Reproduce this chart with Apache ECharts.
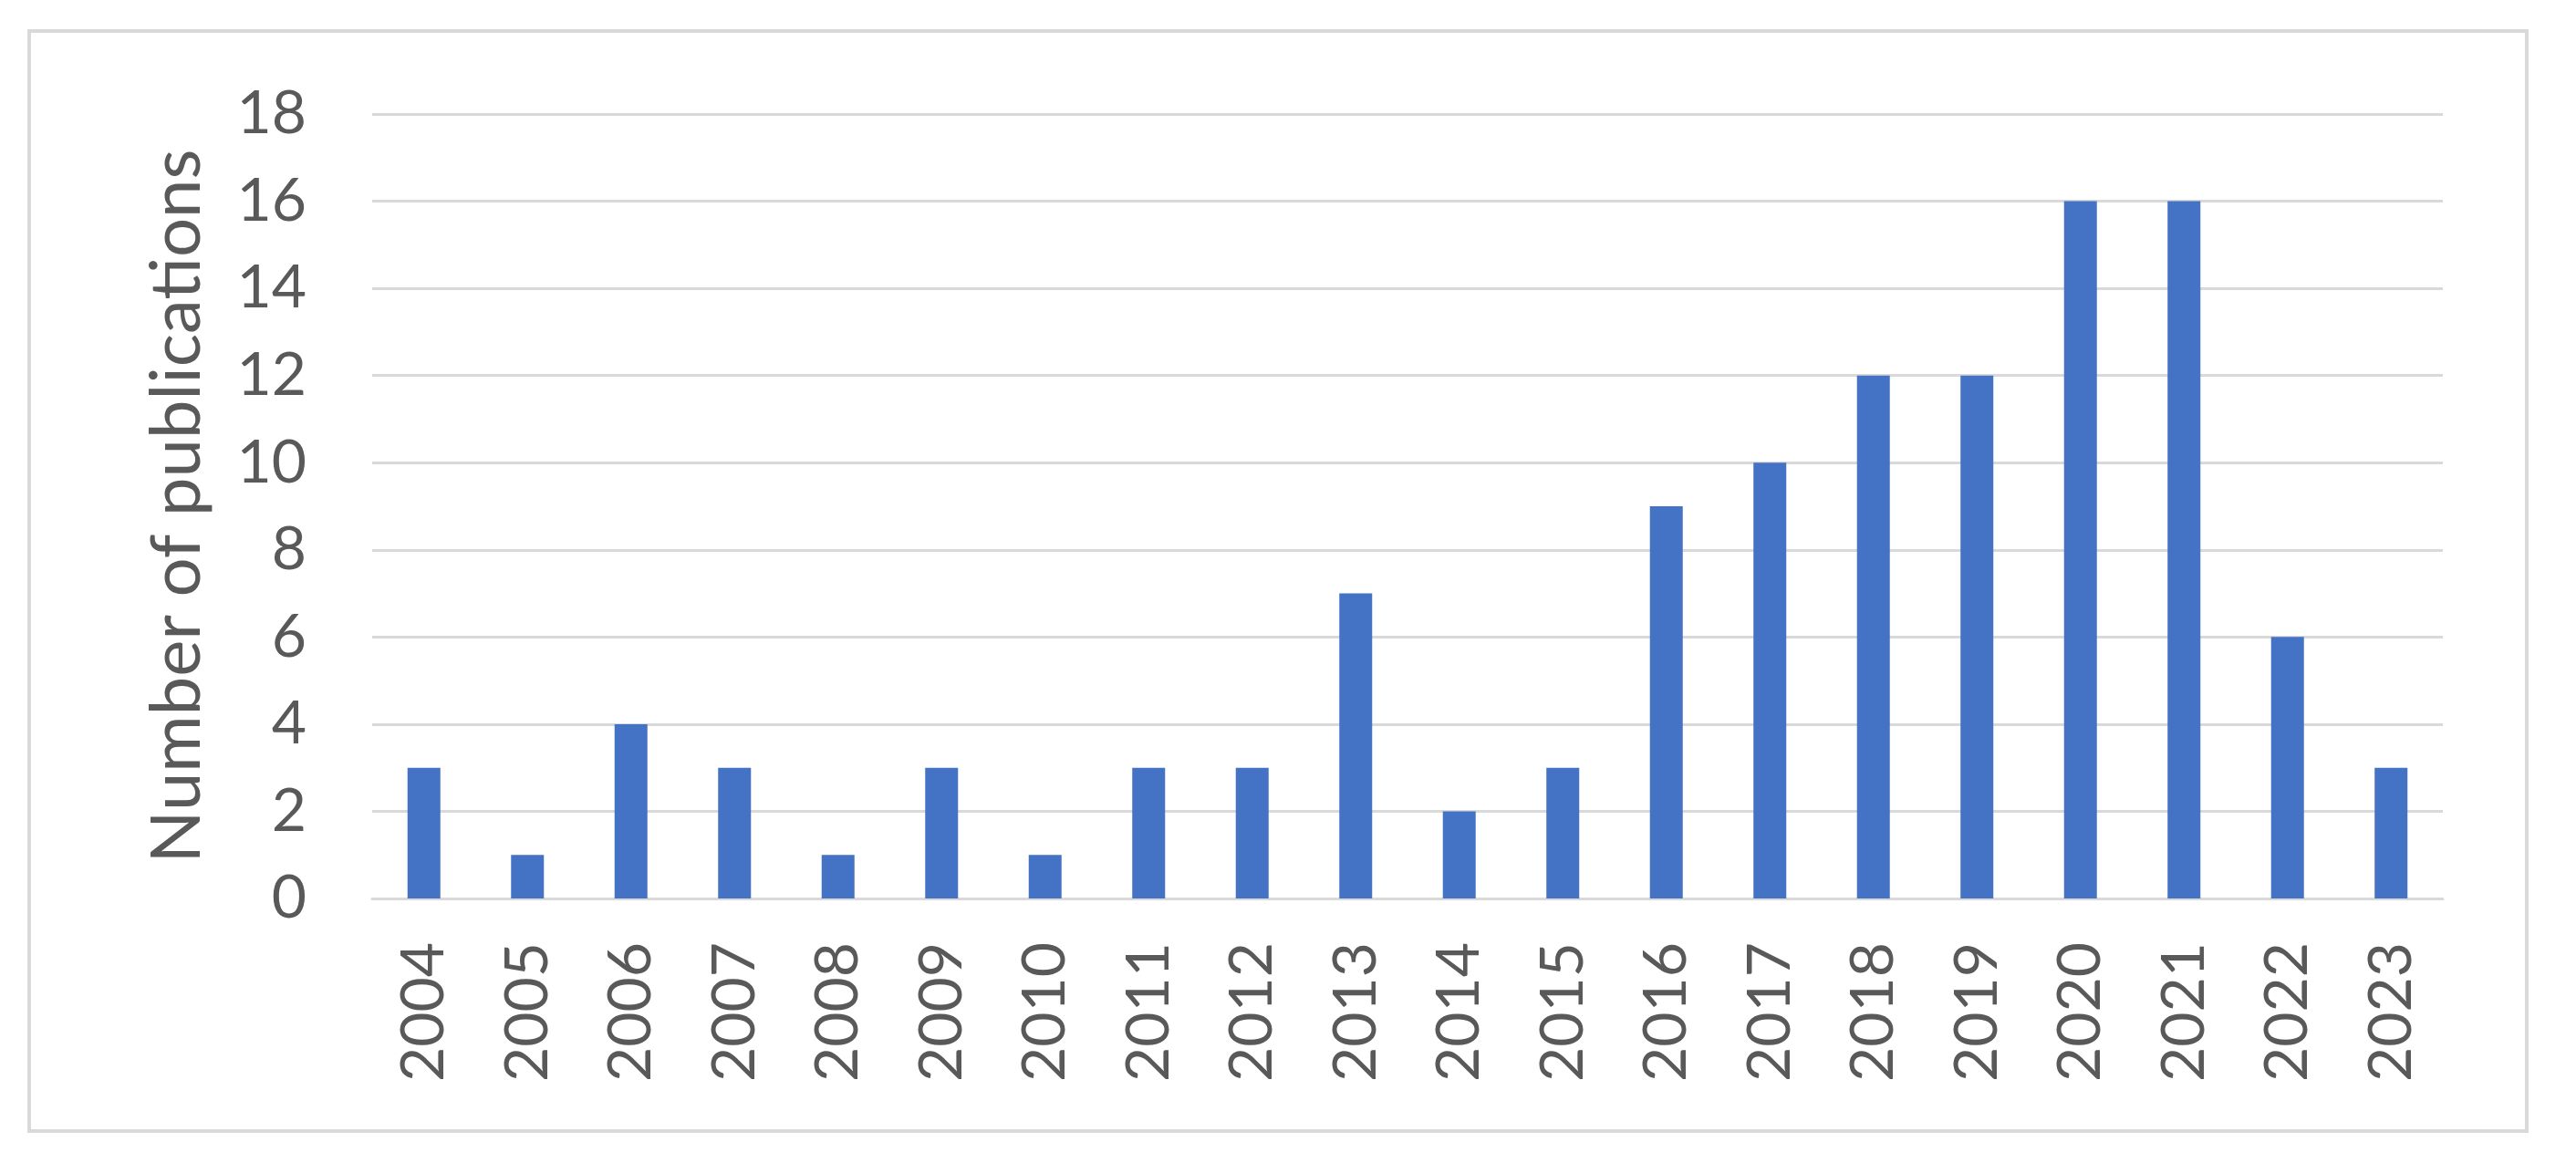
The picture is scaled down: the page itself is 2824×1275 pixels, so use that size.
<!DOCTYPE html>
<html>
<head>
<meta charset="utf-8">
<script src="https://cdn.jsdelivr.net/npm/echarts@6/dist/echarts.min.js"></script>
<style>
html,body{margin:0;padding:0;background:#fff;}
#chart{width:2824px;height:1275px;}
</style>
</head>
<body>
<div id="chart"></div>
<script>
const years = ['2004','2005','2006','2007','2008','2009','2010','2011','2012','2013','2014','2015','2016','2017','2018','2019','2020','2021','2022','2023'];
const publications = [3,1,4,3,1,3,1,3,3,7,2,3,9,10,12,12,16,16,6,3];
const yAxisTitle = 'Number of publications';
const yMin = 0, yMax = 18, yStep = 2;

const textColor = '#595959';
const gridColor = '#d9d9d9';
const fontFamily = 'Lato, "Open Sans", sans-serif';

const chart = echarts.init(document.getElementById('chart'), null, {renderer: 'canvas'});
chart.setOption({
  backgroundColor: '#ffffff',
  animation: false,
  graphic: [{
    type: 'rect',
    shape: {x: 32, y: 34, width: 2738, height: 1206},
    style: {fill: 'none', stroke: gridColor, lineWidth: 4},
    silent: true, z: -1
  }],
  grid: {left: 408, right: 146, top: 125, bottom: 290, containLabel: false},
  xAxis: {
    type: 'category',
    data: years,
    axisLine: {show: true, lineStyle: {color: gridColor, width: 3}},
    axisTick: {show: false},
    axisLabel: {
      rotate: 90, margin: 48, color: textColor,
      fontFamily: fontFamily, fontSize: 66, interval: 0
    }
  },
  yAxis: {
    type: 'value',
    min: yMin, max: yMax, interval: yStep,
    name: yAxisTitle,
    nameLocation: 'middle',
    nameRotate: 90,
    nameGap: 176,
    nameTextStyle: {color: textColor, fontFamily: fontFamily, fontSize: 76},
    axisLine: {show: false},
    axisTick: {show: false},
    axisLabel: {color: textColor, fontFamily: fontFamily, fontSize: 66, margin: 72},
    splitLine: {show: true, lineStyle: {color: gridColor, width: 3}}
  },
  series: [{
    type: 'bar',
    data: publications,
    barWidth: 36,
    itemStyle: {color: '#4472c4'}
  }]
});
</script>
</body>
</html>
